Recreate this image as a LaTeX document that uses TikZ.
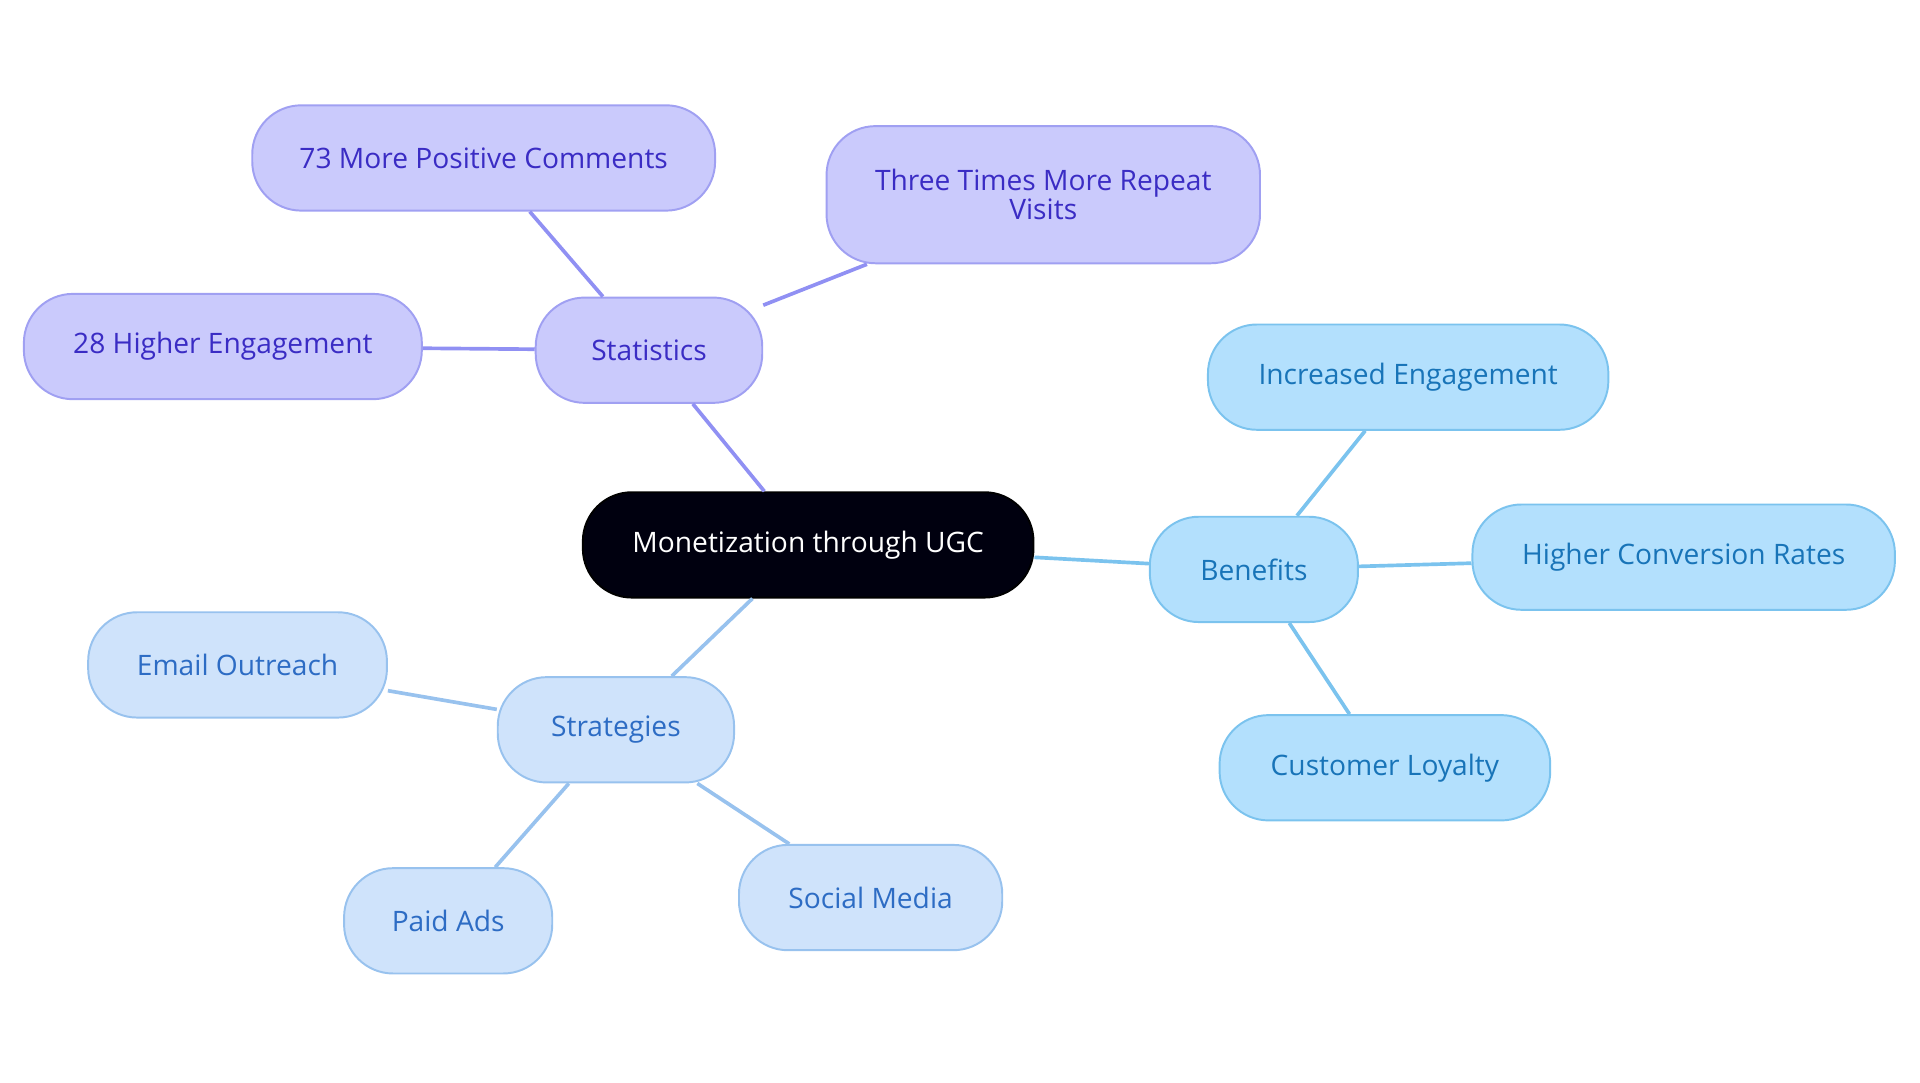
\documentclass[tikz,border=0pt]{standalone}
\usepackage{fontspec}
\setmainfont{Open Sans}
\begin{document}
\begin{tikzpicture}[x=0.5pt,y=-0.5pt,
 base/.style={rounded corners=20pt,line width=0.8pt,minimum height=43pt,inner sep=0pt,align=center,font=\fontsize{11.5}{12}\selectfont},
 pur/.style={base,fill=purp,draw=purpd,text=purpt},
 blu/.style={base,fill=blu,draw=blud,text=blut},
 lbl/.style={base,fill=lb,draw=lbd,text=lbt},
 pl/.style={draw=purpd!90!blue,line width=1.5pt},
 bl/.style={draw=blud,line width=1.5pt},
 ll/.style={draw=lbd,line width=1.5pt}]
\definecolor{purp}{HTML}{CACAFC}\definecolor{purpd}{HTML}{A0A0F2}\definecolor{purpt}{HTML}{3A2CC4}
\definecolor{blu}{HTML}{B3E0FD}\definecolor{blud}{HTML}{7BC3EE}\definecolor{blut}{HTML}{1874B8}
\definecolor{lb}{HTML}{CFE3FB}\definecolor{lbd}{HTML}{98C2EE}\definecolor{lbt}{HTML}{2D6CC4}
\useasboundingbox (0,0) rectangle (1568,884);
\node[base,fill=black!90!blue!60!black,draw=black,text=white,minimum width=184pt] (c) at (660,445) {Monetization through UGC};
\node[pur,minimum width=92.5pt] (s) at (530,286) {Statistics};
\node[pur,minimum width=189pt] (s1) at (395,129) {73 More Positive Comments};
\node[pur,minimum width=177pt,minimum height=56pt] (s2) at (852,159) {Three Times More Repeat\\Visits};
\node[pur,minimum width=162.5pt] (s3) at (182,283) {28 Higher Engagement};
\node[blu,minimum width=85pt] (b) at (1024,465) {Benefits};
\node[blu,minimum width=163.5pt] (b1) at (1150,308) {Increased Engagement};
\node[blu,minimum width=172.5pt] (b2) at (1375,455) {Higher Conversion Rates};
\node[blu,minimum width=135pt] (b3) at (1131,627) {Customer Loyalty};
\node[lbl,minimum width=96.5pt] (t) at (503,596) {Strategies};
\node[lbl,minimum width=122pt] (t1) at (194,543) {Email Outreach};
\node[lbl,minimum width=85pt] (t2) at (366,752) {Paid Ads};
\node[lbl,minimum width=107.5pt] (t3) at (711,733) {Social Media};
\begin{scope}[on background layer/.style={}]
\end{scope}
\path[pl] (c) -- (s) (s) -- (s1) (s) -- (s2) (s) -- (s3);
\path[bl] (c) -- (b) (b) -- (b1) (b) -- (b2) (b) -- (b3);
\path[ll] (c) -- (t) (t) -- (t1) (t) -- (t2) (t) -- (t3);
\end{tikzpicture}
\end{document}
